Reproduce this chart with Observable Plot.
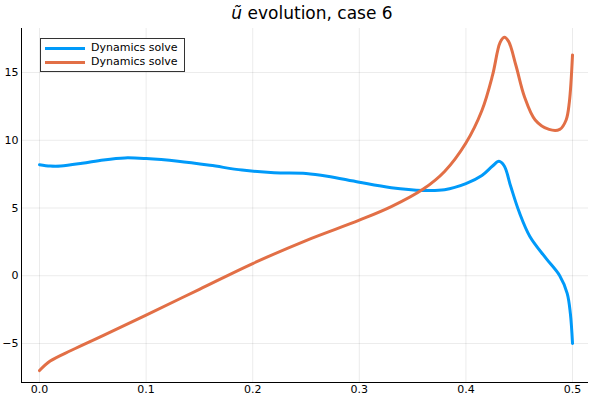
<!DOCTYPE html>
<html><head><meta charset="utf-8">
<script src="https://cdn.jsdelivr.net/npm/d3@7"></script>
<script src="https://cdn.jsdelivr.net/npm/@observablehq/plot@0.6"></script>
<style>
body{margin:0;font-family:"DejaVu Sans",sans-serif;background:#fff}
#wrap{position:relative;width:600px;height:400px}
#title{height:26px;text-align:center;font-size:17px;line-height:26px;padding-left:24px}
#legend{position:absolute;left:40px;top:38px;border:1px solid #333;background:#fff;font-size:11px;padding:2px 6px 2px 4px;line-height:14px}
.sw{display:inline-block;width:40px;height:3px;vertical-align:middle;margin-right:6px}
</style></head><body>
<div id="wrap">
<div id="title"><i>ũ</i> evolution, case 6</div>
<div id="chart"></div>
<div id="legend"><div><span class="sw" style="background:#009af9"></span>Dynamics solve</div><div><span class="sw" style="background:#e26f46"></span>Dynamics solve</div></div>
</div>
<script>
const blueT = [0,0.01,0.02,0.04,0.06,0.08,0.1,0.13,0.16,0.19,0.22,0.25,0.27,0.3,0.33,0.36,0.38,0.4,0.415,0.425,0.431,0.436,0.442,0.45,0.46,0.475,0.488,0.495,0.498,0.5];
const blueU = [8.2,8.1,8.1,8.3,8.55,8.7,8.65,8.45,8.15,7.8,7.6,7.55,7.35,6.9,6.5,6.3,6.35,6.8,7.4,8.1,8.45,8.1,6.6,4.7,2.9,1.3,0.0,-1.3,-2.8,-5.0];
const orT = [0,0.01,0.03,0.06,0.1,0.15,0.2,0.25,0.3,0.33,0.36,0.38,0.4,0.415,0.425,0.432,0.436,0.44,0.447,0.455,0.465,0.478,0.488,0.494,0.497,0.5];
const orU = [-7.0,-6.3,-5.5,-4.4,-2.9,-1.0,0.9,2.6,4.1,5.1,6.4,7.7,9.8,12.2,14.8,17.2,17.6,17.3,15.5,13.2,11.5,10.8,10.8,11.5,12.8,16.3];
const xTicks = [0,0.1,0.2,0.3,0.4,0.5];
const yTicks = [-5,0,5,10,15];
const blue = blueT.map((t,i)=>({t,u:blueU[i]}));
const orange = orT.map((t,i)=>({t,u:orU[i]}));
const plot = Plot.plot({
  width:600,height:374,marginTop:2,marginLeft:21,marginRight:12,marginBottom:18,
  style:{fontSize:"11px",fontFamily:"DejaVu Sans",overflow:"visible"},
  x:{domain:[-0.0169,0.515],ticks:xTicks,tickFormat:d3.format(".1f"),label:null,tickSize:0,tickPadding:3},
  y:{domain:[-7.88,18.25],ticks:yTicks,label:null,tickSize:0,tickPadding:3},
  marks:[
    Plot.gridX(xTicks,{stroke:"#000",strokeOpacity:0.08}),
    Plot.gridY(yTicks,{stroke:"#000",strokeOpacity:0.08}),
    Plot.ruleX([-0.0169],{stroke:"#000"}),
    Plot.ruleY([-7.88],{stroke:"#000"}),
    Plot.line(blue,{x:"t",y:"u",stroke:"#009af9",strokeWidth:3,curve:"catmull-rom"}),
    Plot.line(orange,{x:"t",y:"u",stroke:"#e26f46",strokeWidth:3,curve:"catmull-rom"})
  ]
});
document.getElementById("chart").appendChild(plot);
</script>
</body></html>
